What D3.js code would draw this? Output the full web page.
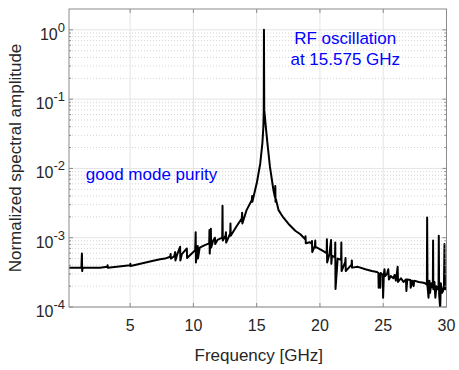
<!DOCTYPE html>
<html>
<head>
<meta charset="utf-8">
<script src="https://cdn.jsdelivr.net/npm/d3@7"></script>
<style>
  body { margin: 0; background: #fff; }
  text { font-family: "Liberation Sans", Arial, sans-serif; }
</style>
</head>
<body>
<script>
// spectrum (frequency in GHz, normalized amplitude)
var freqGHz = [
  0.17, 1.15, 1.19, 1.21, 1.25, 2.62, 3.2, 3.22, 3.24, 5.0, 5.02, 5.04, 6.74,
  7.37, 7.76, 8.16, 8.2, 8.22, 8.48, 8.56, 8.58, 8.7, 8.95, 8.97, 9.09,
  9.48, 9.5, 10.14, 10.18, 10.2, 10.3, 10.34, 10.36, 10.5, 10.9, 11.25, 11.27,
  11.29, 11.38, 11.4, 11.56, 11.7, 11.72, 11.9, 12.28, 12.3, 12.32, 12.55, 12.57, 12.59,
  12.91, 12.93, 12.95, 13.4, 13.83, 13.85, 13.87, 14.2, 14.62, 14.64, 14.66, 15.02,
  15.28, 15.45, 15.53, 15.56, 15.575, 15.6, 15.72, 15.85, 16.05, 16.33,
  16.45, 16.47, 16.49, 16.52, 16.73, 17.1, 17.52, 18.05, 18.45, 18.84, 18.86, 18.88,
  19.2, 19.35, 19.37, 19.39, 19.6, 19.63, 19.65, 19.77, 20.2, 20.53, 20.55, 20.57,
  20.75, 20.88, 20.9, 20.95, 21.19, 21.21, 21.23, 21.4, 21.67, 21.69, 21.71, 22.0,
  22.02, 22.04, 22.5, 22.52, 22.54, 23.0, 23.59, 24.1, 24.51, 24.62, 24.64, 24.7,
  24.77, 24.8, 24.97, 24.99, 25.05, 25.1, 25.15, 25.3, 25.4, 25.45, 25.6, 25.8,
  25.9, 26.0, 26.14, 26.17, 26.4, 26.6, 26.8, 26.83, 26.9, 27.15, 27.17, 27.3,
  27.4, 27.45, 27.8, 28.18, 28.3, 28.45, 28.47, 28.5, 28.58, 28.65, 28.7, 28.8,
  28.92, 28.94, 28.96, 29.05, 29.12, 29.2, 29.3, 29.37, 29.39, 29.42, 29.5, 29.55,
  29.65, 29.72, 29.8, 29.84, 29.88, 29.95, 30.0
];
var amplitude = [
  3.7e-4, 3.7e-4, 5.9e-4, 3.3e-4, 3.7e-4, 3.7e-4, 3.8e-4, 4.0e-4, 3.7e-4, 4.0e-4, 4.2e-4, 3.9e-4, 4.6e-4,
  4.9e-4, 5.0e-4, 5.3e-4, 5.8e-4, 5.0e-4, 5.4e-4, 6.2e-4, 4.7e-4, 5.6e-4, 7.4e-4, 4.7e-4, 5.8e-4,
  7.0e-4, 5.1e-4, 6.6e-4, 1.2e-3, 4.4e-4, 6.9e-4, 7.6e-4, 5.0e-4, 7.2e-4, 7.8e-4, 8.3e-4, 1.29e-3,
  5.9e-4, 1.35e-3, 7.2e-4, 9.1e-4, 1.0e-3, 8.1e-4, 9.3e-4, 1.0e-3, 2.9e-3, 9.1e-4, 1.08e-3, 1.2e-3, 8.5e-4,
  1.15e-3, 1.6e-3, 1.07e-3, 1.45e-3, 1.9e-3, 2.3e-3, 1.6e-3, 2.5e-3, 3.5e-3, 4.0e-3, 3.3e-3, 6.3e-3,
  1.17e-2, 2.3e-2, 4.0e-2, 7.0e-2, 1.0, 7.0e-2, 4.0e-2, 2.3e-2, 1.05e-2, 4.8e-3,
  3.8e-3, 5.6e-3, 3.3e-3, 3.6e-3, 2.5e-3, 1.96e-3, 1.58e-3, 1.26e-3, 1.12e-3, 9.5e-4, 1.05e-3, 8.3e-4,
  8.6e-4, 8.2e-4, 9.0e-4, 6.2e-4, 7.6e-4, 9.1e-4, 7.2e-4, 7.2e-4, 6.5e-4, 6.0e-4, 9.5e-4, 4.4e-4,
  5.8e-4, 9.3e-4, 4.2e-4, 5.5e-4, 5.2e-4, 8.5e-4, 1.82e-4, 5.0e-4, 4.8e-4, 8.5e-4, 3.3e-4, 4.5e-4,
  5.1e-4, 3.3e-4, 4.1e-4, 4.7e-4, 3.7e-4, 3.8e-4, 3.5e-4, 3.3e-4, 3.2e-4, 3.1e-4, 1.9e-4, 3.0e-4,
  1.9e-4, 3.1e-4, 2.9e-4, 1.36e-4, 3.0e-4, 3.5e-4, 2.8e-4, 3.0e-4, 3.5e-4, 2.5e-4, 2.8e-4, 2.6e-4,
  2.9e-4, 2.4e-4, 3.8e-4, 2.3e-4, 2.6e-4, 2.3e-4, 2.5e-4, 1.7e-4, 2.5e-4, 2.45e-4, 1.9e-4, 2.4e-4,
  2.0e-4, 2.4e-4, 2.3e-4, 2.24e-4, 2.2e-4, 2.1e-4, 1.96e-3, 2.0e-4, 1.36e-4, 2.4e-4, 1.6e-4, 2.2e-4,
  1.9e-4, 9.1e-4, 1.8e-4, 2.3e-4, 1.36e-4, 2.0e-4, 1.8e-4, 1.9e-4, 1.07e-3, 1.5e-4, 9.5e-5, 2.2e-4,
  1.6e-4, 1.7e-4, 2.0e-4, 8.1e-4, 1.8e-4, 1.9e-4, 1.9e-4
];

var xTicks = [5, 10, 15, 20, 25, 30];
var yDecades = [0, -1, -2, -3, -4];
var xDomain = [0.17, 30];
var yDomain = [1e-4, 2];

var notes = [
  {f: 22.0, a: 0.62, lines: ["RF oscillation", "at 15.575 GHz"]},
  {f: 1.5, a: 0.0067, lines: ["good mode purity"]}
];

var width = 459, height = 370;
var margin = {left: 69, right: 12.5, top: 9, bottom: 63};

var svg = d3.select("body").append("svg")
    .attr("width", width)
    .attr("height", height);

var x = d3.scaleLinear().domain(xDomain).range([margin.left, width - margin.right]);
var y = d3.scaleLog().domain(yDomain).range([height - margin.bottom, margin.top]);

var x0 = x.range()[0], x1 = x.range()[1];
var y0 = y.range()[0], y1 = y.range()[1];

// minor grid (dotted) at 2..9 of each decade
var minor = [];
yDecades.forEach(function(e) {
  for (var k = 2; k <= 9; k++) {
    var v = k * Math.pow(10, e);
    if (v < yDomain[1] && v > yDomain[0]) minor.push(v);
  }
});

svg.append("g").selectAll("line").data(minor).enter().append("line")
    .attr("x1", x0).attr("x2", x1)
    .attr("y1", function(d) { return y(d); })
    .attr("y2", function(d) { return y(d); })
    .style("stroke", "#d4d4d4")
    .style("stroke-width", 1)
    .style("stroke-dasharray", "1,2");

// major grid
svg.append("g").selectAll("line").data(yDecades).enter().append("line")
    .attr("x1", x0).attr("x2", x1)
    .attr("y1", function(d) { return y(Math.pow(10, d)); })
    .attr("y2", function(d) { return y(Math.pow(10, d)); })
    .style("stroke", "#e4e4e4")
    .style("stroke-width", 1);

svg.append("g").selectAll("line").data(xTicks).enter().append("line")
    .attr("x1", function(d) { return x(d); })
    .attr("x2", function(d) { return x(d); })
    .attr("y1", y0).attr("y2", y1)
    .style("stroke", "#e4e4e4")
    .style("stroke-width", 1);

// spectrum
svg.append("clipPath").attr("id", "clip")
  .append("rect")
    .attr("x", x0).attr("y", y1)
    .attr("width", x1 - x0).attr("height", y0 - y1);

var pts = freqGHz.map(function(f, i) { return [f, amplitude[i]]; });

var line = d3.line()
    .x(function(d) { return x(d[0]); })
    .y(function(d) { return y(d[1]); });

svg.append("path")
    .datum(pts)
    .attr("clip-path", "url(#clip)")
    .attr("d", line)
    .style("fill", "none")
    .style("stroke", "#000")
    .style("stroke-width", 2)
    .style("stroke-linejoin", "round");

// box + inward ticks, matlab style
var axisColor = "#8c8c8c";
var box = svg.append("g").style("stroke", axisColor).style("stroke-width", 1).style("fill", "none");
box.append("rect")
    .attr("x", x0).attr("y", y1)
    .attr("width", x1 - x0).attr("height", y0 - y1);

var tl = 4;
xTicks.forEach(function(d) {
  box.append("line").attr("x1", x(d)).attr("x2", x(d)).attr("y1", y0).attr("y2", y0 - tl);
  box.append("line").attr("x1", x(d)).attr("x2", x(d)).attr("y1", y1).attr("y2", y1 + tl);
});
yDecades.forEach(function(e) {
  var yy = y(Math.pow(10, e));
  box.append("line").attr("x1", x0).attr("x2", x0 + tl).attr("y1", yy).attr("y2", yy);
  box.append("line").attr("x1", x1).attr("x2", x1 - tl).attr("y1", yy).attr("y2", yy);
});
minor.forEach(function(v) {
  var yy = y(v);
  box.append("line").attr("x1", x0).attr("x2", x0 + 2).attr("y1", yy).attr("y2", yy);
  box.append("line").attr("x1", x1).attr("x2", x1 - 2).attr("y1", yy).attr("y2", yy);
});

// tick labels
var labColor = "#262626";
svg.append("g").selectAll("text").data(xTicks).enter().append("text")
    .attr("x", function(d) { return x(d); })
    .attr("y", y0 + 24)
    .attr("text-anchor", "middle")
    .style("font-size", "16px")
    .style("fill", labColor)
    .text(function(d) { return d; });

var yl = svg.append("g").selectAll("text").data(yDecades).enter().append("text")
    .attr("x", x0 - 4)
    .attr("y", function(d) { return y(Math.pow(10, d)) + 10; })
    .attr("text-anchor", "end")
    .style("fill", labColor);
yl.append("tspan").style("font-size", "16px").text("10");
yl.append("tspan").style("font-size", "13px").attr("dy", -8)
    .text(function(d) { return d === 0 ? "0" : "-" + Math.abs(d); });

// axis titles
svg.append("text")
    .attr("x", (x0 + x1) / 2 + 1)
    .attr("y", 361)
    .attr("text-anchor", "middle")
    .style("font-size", "17px")
    .style("fill", labColor)
    .text("Frequency [GHz]");

svg.append("text")
    .attr("transform", "translate(21," + ((y0 + y1) / 2) + ") rotate(-90)")
    .attr("text-anchor", "middle")
    .style("font-size", "17px")
    .style("fill", labColor)
    .text("Normalized spectral amplitude");

// annotations
notes.forEach(function(n) {
  var t = svg.append("text")
      .attr("x", x(n.f))
      .attr("y", y(n.a))
      .attr("text-anchor", n.lines.length > 1 ? "middle" : "start")
      .style("font-size", "17px")
      .style("fill", "#0000ff");
  n.lines.forEach(function(s, i) {
    t.append("tspan").attr("x", x(n.f)).attr("dy", i === 0 ? 0 : 20.5).text(s);
  });
});
</script>
</body>
</html>
